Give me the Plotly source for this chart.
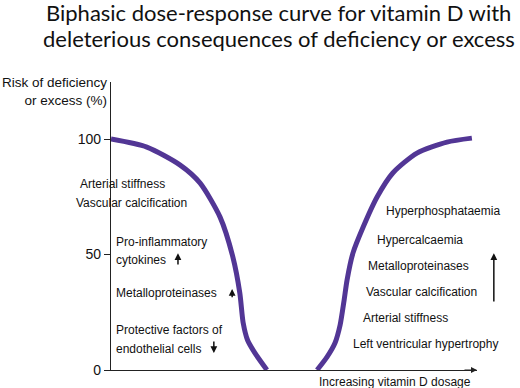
import plotly.graph_objects as go

# Curve data (dose in arbitrary 0-100 units, risk in %)
left_dose = [0, 9.8, 18.9, 24.3, 29.8, 33.3, 35.2, 36.1, 37.3, 39.3, 42.6]
left_risk = [100, 96.5, 88.7, 81, 66.2, 48.9, 33.3, 20.5, 13, 7.4, 0]
right_dose = [56.3, 59.0, 61.2, 62.6, 63.7, 64.5, 66.1, 68.9, 72.7, 77, 83.6, 91.8, 98.6]
right_risk = [0, 5.6, 11.7, 19.5, 30.3, 39, 50.6, 61.9, 74.9, 85.3, 93.9, 98.7, 100.4]

X_RANGE = [0, 100]
Y_RANGE = [0, 124.7]
y_ticks = [0, 50, 100]
y_tick_labels = ["0", "50", "100"]

left_texts = ["Arterial stiffness", "Vascular calcification", "Pro-inflammatory",
              "cytokines", "Metalloproteinases", "Protective factors of", "endothelial cells"]
left_text_x = [-8.9, -10.0, 0.8, 0.8, 0.8, 0.8, 0.8]
left_text_y = [80.5, 72.3, 55.4, 47.6, 33.3, 17.3, 9.1]

right_texts = ["Hyperphosphataemia", "Hypercalcaemia", "Metalloproteinases",
               "Vascular calcification", "Arterial stiffness", "Left ventricular hypertrophy"]
right_text_x = [74.6, 72.1, 69.6, 69.1, 68.3, 65.5]
right_text_y = [68.8, 56.3, 45, 33.8, 22.5, 11.3]

# small arrows: (x, y_head, y_tail)
small_arrows = [(18.3, 50.6, 45.0), (33.1, 35.1, 30.8), (28.1, 7.4, 13.0)]
big_arrow = (104.6, 50.6, 29.0)

title_lines = ["Biphasic dose-response curve for vitamin D with",
               "deleterious consequences of deficiency or excess"]

W, H = 520, 388
M = dict(l=111, r=43, t=82, b=18)
PLOT_H = H - M["t"] - M["b"]
PLOT_W = W - M["l"] - M["r"]


def px_(x):
    return (x - X_RANGE[0]) / (X_RANGE[1] - X_RANGE[0])


def py_(y):
    return (y - Y_RANGE[0]) / (Y_RANGE[1] - Y_RANGE[0])


PURPLE = "#523695"
FONT = "Liberation Sans, Arial, sans-serif"
TXT = dict(family=FONT, size=12, color="#111")

fig = go.Figure()
for xs, ys in [(left_dose, left_risk), (right_dose, right_risk)]:
    fig.add_trace(go.Scatter(x=xs, y=ys, mode="lines",
                             line=dict(color=PURPLE, width=5, shape="spline", smoothing=0.7),
                             showlegend=False, hoverinfo="skip", cliponaxis=False))

ann = []
for t, x, y in zip(left_texts + right_texts, left_text_x + right_text_x, left_text_y + right_text_y):
    ann.append(dict(x=px_(x), y=py_(y), xref="paper", yref="paper", text=t, showarrow=False,
                    xanchor="left", yanchor="middle", font=TXT))

arrows = list(small_arrows) + [big_arrow]
for x, yh, yt in arrows:
    ann.append(dict(x=px_(x), y=py_(yh), ax=0, ay=(py_(yh) - py_(yt)) * PLOT_H,
                    xref="paper", yref="paper", axref="pixel", ayref="pixel",
                    text="", showarrow=True, arrowhead=2, arrowsize=0.9, arrowwidth=1.5,
                    arrowcolor="#111"))
# x-axis arrow head
ann.append(dict(x=1.0, y=0, ax=-14, ay=0, xref="paper", yref="paper", axref="pixel", ayref="pixel",
                text="", showarrow=True, arrowhead=2, arrowsize=1, arrowwidth=1.2,
                arrowcolor="#222"))
# axis labels
ann.append(dict(x=-0.005, y=py_(120.5), xref="paper", yref="paper", xanchor="right", yanchor="middle",
                align="right", showarrow=False,
                text="Risk of deficiency<br>or excess (%)",
                font=dict(family=FONT, size=13.5, color="#111")))
ann.append(dict(x=px_(99), y=py_(-1.3), xref="paper", yref="paper", xanchor="right", yanchor="top",
                showarrow=False, text="Increasing vitamin D dosage",
                font=dict(family=FONT, size=12, color="#111")))
# title lines
for t, yy in zip(title_lines, [1.240, 1.150]):
    ann.append(dict(x=0.459, y=yy, xref="paper", yref="paper", xanchor="center", yanchor="middle",
                    showarrow=False, text=t,
                    font=dict(family="Lato, sans-serif", size=22, color="#111")))

fig.update_layout(
    width=W, height=H,
    margin=M,
    paper_bgcolor="white", plot_bgcolor="white",
    xaxis=dict(range=X_RANGE, showgrid=False, zeroline=False, showline=True, automargin=False,
               linecolor="#222", linewidth=1.2, showticklabels=False, ticks=""),
    yaxis=dict(range=Y_RANGE, showgrid=False, zeroline=False, showline=True, automargin=False,
               linecolor="#222", linewidth=1.2, tickvals=y_ticks, ticktext=y_tick_labels,
               ticks="outside", ticklen=6, tickcolor="#222", tickwidth=1.2,
               tickfont=dict(family=FONT, size=14, color="#111")),
    annotations=ann,
)
fig.write_html("out.html", config={"displayModeBar": False},
               post_script="document.body.style.margin='0';")
